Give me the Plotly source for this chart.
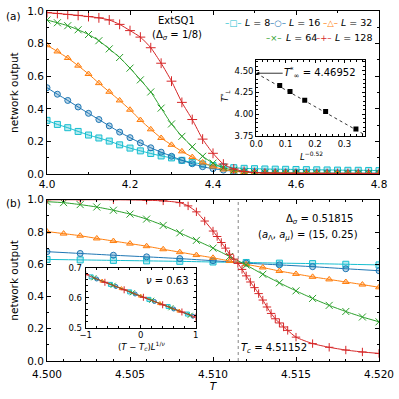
import plotly.graph_objects as go

# ---- panel (a): wide temperature scan --------------------------------------
T_A = [4.000, 4.025, 4.050, 4.075, 4.100, 4.125, 4.150, 4.175, 4.200, 4.225,
       4.250, 4.275, 4.300, 4.325, 4.350, 4.375, 4.400, 4.425, 4.450, 4.475,
       4.500, 4.525, 4.550, 4.575, 4.600, 4.625, 4.650, 4.675, 4.700, 4.725,
       4.750, 4.775, 4.800]

A_L8 = [0.330, 0.305, 0.285, 0.262, 0.240, 0.222, 0.203, 0.180, 0.160, 0.143,
        0.127, 0.112, 0.100, 0.085, 0.072, 0.062, 0.053, 0.046, 0.040, 0.036,
        0.034, 0.032, 0.031, 0.030, 0.029, 0.028, 0.027, 0.026, 0.025, 0.024,
        0.024, 0.023, 0.022]
A_L16 = [0.530, 0.490, 0.452, 0.412, 0.373, 0.335, 0.296, 0.258, 0.224, 0.192,
         0.162, 0.135, 0.110, 0.085, 0.064, 0.046, 0.034, 0.025, 0.018, 0.014,
         0.011, 0.010, 0.009, 0.009, 0.008, 0.008, 0.007, 0.007, 0.007, 0.006,
         0.006, 0.006, 0.006]
A_L32 = [0.790, 0.752, 0.712, 0.665, 0.614, 0.558, 0.505, 0.452, 0.395, 0.332,
         0.275, 0.222, 0.180, 0.140, 0.105, 0.072, 0.047, 0.029, 0.019, 0.013,
         0.010, 0.009, 0.008, 0.008, 0.007, 0.007, 0.007, 0.006, 0.006, 0.006,
         0.006, 0.005, 0.005]
A_L64 = [0.945, 0.928, 0.910, 0.885, 0.856, 0.818, 0.768, 0.715, 0.650, 0.578,
         0.504, 0.405, 0.308, 0.232, 0.168, 0.110, 0.068, 0.040, 0.024, 0.015,
         0.010, 0.008, 0.007, 0.006, 0.006, 0.005, 0.005, 0.005, 0.005, 0.005,
         0.005, 0.005, 0.005]
A_L128 = [0.990, 0.985, 0.979, 0.973, 0.966, 0.958, 0.945, 0.918, 0.880, 0.840,
          0.775, 0.680, 0.570, 0.440, 0.335, 0.215, 0.128, 0.062, 0.032, 0.017,
          0.010, 0.007, 0.006, 0.005, 0.005, 0.004, 0.004, 0.004, 0.004, 0.004,
          0.004, 0.004, 0.004]

# inset (a): crossing temperature vs L^-0.52
INSET_A_X = [0.080, 0.115, 0.165, 0.236, 0.339]
INSET_A_Y = [4.33, 4.26, 4.16, 4.03, 3.83]
FIT_A_X = [0.0, 0.37]
FIT_A_Y = [4.46952, 3.76]
T_INF = 4.46952

# ---- panel (b): zoom near the transition ------------------------------------
TC = 4.51152
T_B = [4.500, 4.501, 4.502, 4.503, 4.504, 4.505, 4.506, 4.507, 4.508, 4.509,
       4.510, 4.511, 4.512, 4.513, 4.514, 4.515, 4.516, 4.517, 4.518, 4.519,
       4.520]
T_B2 = [4.500, 4.502, 4.504, 4.506, 4.508, 4.510, 4.512, 4.514, 4.516, 4.518,
        4.520]

B_L8 = [0.630, 0.627, 0.624, 0.621, 0.618, 0.614, 0.611, 0.607, 0.604, 0.600,
        0.596]
B_L16 = [0.678, 0.667, 0.656, 0.646, 0.635, 0.622, 0.607, 0.596, 0.585, 0.572,
         0.560]
B_L32 = [0.803, 0.790, 0.777, 0.760, 0.744, 0.728, 0.712, 0.693, 0.675, 0.657,
         0.640, 0.620, 0.600, 0.580, 0.558, 0.540, 0.522, 0.506, 0.490, 0.474,
         0.457]
B_L64 = [0.988, 0.982, 0.970, 0.955, 0.935, 0.911, 0.880, 0.841, 0.795, 0.748,
         0.700, 0.648, 0.595, 0.538, 0.485, 0.435, 0.388, 0.345, 0.307, 0.273,
         0.243]

T_B128 = [4.500, 4.502, 4.504, 4.506, 4.507, 4.508, 4.5085, 4.509, 4.5095,
          4.5100, 4.51025, 4.5105, 4.51075, 4.5110, 4.51125, 4.5115, 4.51175,
          4.5120, 4.51225, 4.5125, 4.51275, 4.5130, 4.51325, 4.5135, 4.51375,
          4.5140, 4.51425, 4.5145, 4.515, 4.516, 4.517, 4.518, 4.519, 4.520]
B_L128 = [1.000, 1.000, 1.000, 0.997, 0.993, 0.982, 0.962, 0.925, 0.868,
          0.806, 0.772, 0.735, 0.700, 0.662, 0.632, 0.605, 0.568,
          0.528, 0.490, 0.455, 0.418, 0.378, 0.335, 0.295, 0.262,
          0.236, 0.211, 0.190, 0.148, 0.108, 0.085, 0.068, 0.056, 0.047]

# inset (b): data collapse with nu = 0.63
IB_X8 = [-0.90, -0.55, -0.20, 0.15, 0.50, 0.85]
IB_Y8 = [0.669, 0.644, 0.619, 0.594, 0.570, 0.545]
IB_X16 = [-0.80, -0.45, -0.10, 0.25, 0.60, 0.95]
IB_Y16 = [0.662, 0.637, 0.612, 0.587, 0.562, 0.538]
IB_X32 = [-0.70, -0.35, 0.00, 0.35, 0.70]
IB_Y32 = [0.655, 0.630, 0.605, 0.580, 0.555]
IB_X64 = [-0.85, -0.50, -0.15, 0.20, 0.55, 0.90]
IB_Y64 = [0.666, 0.641, 0.616, 0.591, 0.566, 0.541]
IB_X128 = [-1.00, -0.65, -0.30, 0.05, 0.40, 0.75, 1.00]
IB_Y128 = [0.677, 0.651, 0.626, 0.601, 0.576, 0.552, 0.535]

SIZES = [8, 16, 32, 64, 128]
COLORS = ["#17becf", "#1f77b4", "#ff7f0e", "#2ca02c", "#d62728"]
SYMBOLS = ["square", "circle", "triangle-up", "x-thin-open", "cross-thin-open"]
GLYPHS = ["□", "○", "△", "×", "+"]

FONT = "DejaVu Sans"


def fade(hex_color, alpha):
    h = hex_color.lstrip("#")
    r, g, b = int(h[0:2], 16), int(h[2:4], 16), int(h[4:6], 16)
    return f"rgba({r},{g},{b},{alpha})"


def curve(x, y, i, xa, ya, size=6, lw=1.0):
    thin = SYMBOLS[i].endswith("open")
    return go.Scatter(
        x=x, y=y, xaxis=xa, yaxis=ya,
        mode="lines+markers",
        line=dict(color=COLORS[i], width=lw, shape="spline", smoothing=0.6),
        marker=dict(
            symbol=SYMBOLS[i],
            size=size + (1 if thin else 0),
            color=COLORS[i] if thin else fade(COLORS[i], 0.3),
            line=dict(color=COLORS[i], width=1),
        ),
        showlegend=False,
        hoverinfo="x+y",
    )


fig = go.Figure()

for i, ys in enumerate([A_L8, A_L16, A_L32, A_L64, A_L128]):
    fig.add_trace(curve(T_A, ys, i, "x", "y"))

fig.add_trace(go.Scatter(x=FIT_A_X, y=FIT_A_Y, xaxis="x3", yaxis="y3", mode="lines",
                         line=dict(color="black", width=0.8, dash="dot"),
                         showlegend=False))
fig.add_trace(go.Scatter(x=INSET_A_X, y=INSET_A_Y, xaxis="x3", yaxis="y3", mode="markers",
                         marker=dict(symbol="square", size=5, color="black"),
                         showlegend=False))

fig.add_trace(curve(T_B2, B_L8, 0, "x2", "y2"))
fig.add_trace(curve(T_B2, B_L16, 1, "x2", "y2"))
fig.add_trace(curve(T_B, B_L32, 2, "x2", "y2"))
fig.add_trace(curve(T_B, B_L64, 3, "x2", "y2"))
fig.add_trace(curve(T_B128, B_L128, 4, "x2", "y2", size=5))

for i, (xs, ys) in enumerate([(IB_X8, IB_Y8), (IB_X16, IB_Y16), (IB_X32, IB_Y32),
                              (IB_X64, IB_Y64), (IB_X128, IB_Y128)]):
    fig.add_trace(curve(xs, ys, i, "x4", "y4", size=4, lw=0.8))

axis_common = dict(
    showline=True, linecolor="black", linewidth=1, mirror="ticks",
    ticks="inside", ticklen=4, tickcolor="black", showgrid=False, zeroline=False,
    tickfont=dict(family=FONT, size=10.5, color="black"),
)
inset_common = dict(axis_common, ticklen=3, tickfont=dict(family=FONT, size=8.5, color="black"))

fig.update_layout(
    width=399, height=399,
    margin=dict(l=47, r=17, t=5, b=38),
    paper_bgcolor="white", plot_bgcolor="white",
    font=dict(family=FONT, size=10, color="black"),
    xaxis=dict(axis_common, domain=[0, 1], anchor="y", range=[4.0, 4.8], dtick=0.2,
               tickformat=".1f", minor=dict(ticks="inside", dtick=0.1, ticklen=2)),
    yaxis=dict(axis_common, domain=[0.5337, 1], anchor="x", range=[0, 1], dtick=0.2,
               tickformat=".1f", minor=dict(ticks="inside", dtick=0.1, ticklen=2),
               title=dict(text="network output", font=dict(size=10.5), standoff=6)),
    xaxis2=dict(axis_common, domain=[0, 1], anchor="y2", range=[4.5, 4.52], dtick=0.005,
                tickformat=".3f", ticklabelstandoff=3,
                minor=dict(ticks="inside", dtick=0.001, ticklen=2),
                title=dict(text="<i>T</i>", font=dict(size=10.5), standoff=3)),
    yaxis2=dict(axis_common, domain=[0, 0.4607], anchor="x2", range=[0, 1], dtick=0.2,
                tickformat=".1f", minor=dict(ticks="inside", dtick=0.1, ticklen=2),
                title=dict(text="network output", font=dict(size=10.5), standoff=6)),
    xaxis3=dict(inset_common, domain=[0.630, 0.958], anchor="y3", range=[0, 0.37],
                dtick=0.1, tickformat=".1f", minor=dict(ticks="inside", dtick=0.02, ticklen=2)),
    yaxis3=dict(inset_common, domain=[0.6433, 0.8596], anchor="x3", range=[3.75, 4.62],
                dtick=0.25, tickformat=".2f", minor=dict(ticks="inside", dtick=0.05, ticklen=2)),
    xaxis4=dict(inset_common, domain=[0.1164, 0.4478], anchor="y4", range=[-1, 1],
                dtick=1, ticklabelstandoff=-1,
                minor=dict(ticks="inside", dtick=0.2, ticklen=2)),
    yaxis4=dict(inset_common, domain=[0.0955, 0.2669], anchor="x4", range=[0.5, 0.7],
                dtick=0.1, tickformat=".1f", ticklabelstandoff=1,
                minor=dict(ticks="inside", dtick=0.02, ticklen=2)),
    shapes=[dict(type="line", xref="x2", yref="y2 domain", x0=TC, x1=TC, y0=0, y1=1,
                 line=dict(color="#666666", width=0.8, dash="dot"), layer="below")],
)

ann = []


def text(s, x, y, size=10, xanchor="center", color="black", angle=0):
    ann.append(dict(text=s, x=x, y=y, xref="paper", yref="paper", showarrow=False,
                    xanchor=xanchor, yanchor="middle", textangle=angle,
                    font=dict(family=FONT, size=size, color=color)))


text("(a)", -0.102, 0.986, size=10.5)
text("(b)", -0.102, 0.452, size=10.5)
text("ExtSQ1", 0.391, 0.972, size=10)
text("(Δ<sub><i>σ</i></sub> = 1/8)", 0.391, 0.930, size=10)
text("Δ<sub><i>σ</i></sub> = 0.51815", 0.821, 0.4045, size=10)
text("(<i>a</i><sub>Λ</sub>, <i>a</i><sub><i>μ</i></sub>) = (15, 0.25)", 0.787, 0.3596, size=10)
text("<i>T<sub>c</sub></i> = 4.51152", 0.684, 0.0365, size=10)
text("<i>ν</i> = 0.63", 0.364, 0.2303, size=10)

# inset axis titles
text("<i>L</i><sup>−0.52</sup>", 0.797, 0.585, size=8.5)
text("<i>T</i><sup>*</sup><sub><i>L</i></sub>", 0.537, 0.756, size=8.5, angle=-90)
text("(<i>T</i> − <i>T<sub>c</sub></i>)<i>L</i><sup>1/<i>ν</i></sup>", 0.2836, 0.0440, size=8.5)

# legend entries (two rows, right aligned like the original)
handle_x = [0.5612, 0.6955, 0.8537, 0.6836, 0.8358]
label_x = [0.5910, 0.7224, 0.8806, 0.7134, 0.8627]
row_y = [0.966, 0.966, 0.966, 0.924, 0.924]
for i in range(len(SIZES)):
    text(f"–{GLYPHS[i]}–", handle_x[i], row_y[i], size=8.5, color=COLORS[i])
    text(f"<i>L</i> = {SIZES[i]}", label_x[i], row_y[i], size=9.5, xanchor="left")

ann.append(dict(
    text="<i>T</i><sup>*</sup><sub>∞</sub> = 4.46952", x=0, y=T_INF, xref="x3", yref="y3",
    showarrow=True, arrowhead=2, arrowsize=0.8, arrowwidth=0.8, arrowcolor="black",
    ax=64, ay=0, font=dict(family=FONT, size=10, color="black"),
))

fig.update_layout(annotations=ann)

fig.write_html("out.html", config={"displayModeBar": False},
               post_script="document.body.style.margin = '0';")
